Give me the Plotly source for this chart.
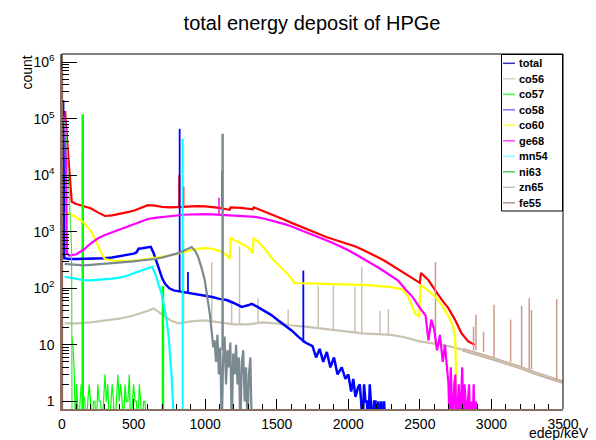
import plotly.graph_objects as go

# ---------------- data (energy in keV, counts) ----------------
total_kev = [5, 22, 45, 68, 100, 150, 200, 250, 300, 350,
             400, 450, 500, 550, 600, 650, 700, 750, 800, 850,
             900, 950, 1000, 1050, 1100, 1150, 1172, 1178, 1250, 1334,
             1340, 1400, 1450, 1500, 1550, 1600, 1650, 1700, 1750, 1800,
             1850, 1900, 1950, 2000, 2050, 2100, 2150, 2200, 2250, 2300,
             2350, 2400, 2450, 2500, 2508, 2559, 2605, 2652, 2698, 2745,
             2791, 2838, 2884]
total_counts = [1.3e5, 1.3e5, 2e4, 3400, 3100, 2850, 2600, 2200, 1900, 1950,
                2050, 2200, 2350, 2600, 2950, 2900, 2750, 2700, 2700, 2750,
                2800, 2850, 2800, 2750, 2650, 2500, 2450, 2700, 2650, 2500,
                2700, 2350, 2100, 1850, 1650, 1450, 1290, 1120, 1000, 900,
                800, 730, 670, 610, 550, 480, 420, 360, 310, 260,
                220, 180, 150, 125, 187, 140, 94, 63, 45, 28,
                16, 11.5, 10]
total_peak_kev = [146, 819, 848, 1119]
total_peak_base = [2800, 2700, 2750, 2650]
total_peak_top = [2.3e4, 1e4, 6300, 1.2e4]

co56_kev = [18, 100, 200, 300, 400, 500, 550, 600, 640, 680,
            720, 760, 813, 900, 1000, 1100, 1200, 1300, 1400, 1500,
            1600, 1700, 1800, 1900, 2000, 2100, 2200, 2300, 2400, 2500,
            2600, 2700, 2800, 2900, 3000, 3100, 3200, 3300, 3400, 3500]
co56_counts = [24, 24, 25, 27, 29, 33, 36, 40, 44, 37,
               31, 27, 24, 26, 27, 25, 23, 23, 25, 24,
               22, 21, 19.5, 18.5, 17, 16, 15.5, 15, 13.5, 11.5,
               10.5, 9.5, 8.2, 7, 5.8, 4.8, 4, 3.2, 2.7, 2.2]
co56_peak_kev = [850, 1046, 1185, 1240, 1370, 1580, 1790, 1896, 2047, 2094, 2222,
                 2280, 2609, 2875, 2892, 2945, 3018, 3134, 3211, 3264, 3280, 3456]
co56_peak_base = [24, 26, 24, 23, 24, 23, 19.5, 18.5, 17, 16, 15.5,
                  15, 10.5, 8, 8, 7.5, 6, 5, 4.2, 3.8, 3.7, 2.4]
co56_peak_top = [700, 290, 55, 550, 67, 42, 110, 112, 105, 240, 40,
                 43, 290, 21, 34, 17, 51, 28, 49, 67, 41, 64]

co57_kev = [70, 78, 86, 94, 102, 110, 118, 126, 134,
            160, 170, 180, 190, 200, 210, 220, 230, 240, 250,
            260, 270, 280, 290, 300, 310, 320, 330, 340, 350,
            360, 370, 380, 390, 400, 410, 420, 430, 440, 450,
            460, 470, 480, 490, 500, 510, 520, 530, 540, 550,
            560, 570, 580, 590]
co57_counts = [14, 8, 3, 0.3, 2, 1, 0.3, 1, 2,
               1, 0.3, 1, 2, 1, 0.3, 1, 1, 0.3, 2,
               1, 1, 0.3, 1, 3, 1, 2, 0.3, 1, 2,
               1, 0.3, 1, 3, 1, 2, 1, 0.3, 2, 1,
               1, 3, 0.3, 1, 2, 1, 1, 0.3, 2, 1,
               0.3, 1, 1, 0.3]
co57_peak_kev = [145, 705]
co57_peak_base = [0.3, 0.3]
co57_peak_top = [1.2e5, 110]

co58_kev = [2, 8, 16, 50, 100, 150, 200, 250, 300, 350,
            400, 450, 500, 520, 535, 560, 600, 620, 640, 660,
            680, 700, 720, 750, 780, 815, 850, 900, 950, 1000,
            1050, 1100, 1150, 1200, 1255, 1300, 1325, 1360, 1418, 1460,
            1511, 1560, 1604, 1650, 1700, 1750, 1775, 1800, 1825, 1850,
            1875, 1900, 1925, 1954, 1980, 2000, 2020, 2035, 2050, 2069,
            2080, 2090, 2100, 2110, 2120, 2130, 2140, 2150, 2160, 2170,
            2180, 2190, 2200, 2210, 2220, 2230, 2240, 2250, 2260]
co58_counts = [2e5, 2e5, 340, 330, 330, 330, 330, 335, 340, 350,
               370, 385, 410, 430, 500, 510, 530, 540, 420, 300,
               210, 150, 120, 100, 92, 89, 85, 82, 78, 74,
               70, 65, 62, 55, 47, 50, 53, 48, 40, 34,
               27, 22, 18, 14, 11, 9.5, 6, 8.5, 5, 7.5,
               4, 6, 3, 4, 2.5, 3, 1.5, 2.5, 1.2, 1.8,
               2, 1, 0.3, 2, 1, 1, 0.3, 2, 1, 0.3,
               1, 1, 0.3, 1, 0.3, 1, 0.3, 1, 0.3]
co58_peak_kev = [822, 880, 1686]
co58_peak_base = [89, 83, 11]
co58_peak_top = [6.6e4, 195, 206]

co60_kev = [20, 50, 100, 150, 200, 225, 250, 275, 300, 350,
            400, 450, 500, 550, 600, 650, 700, 750, 800, 850,
            900, 950, 1000, 1050, 1100, 1150, 1172, 1178, 1200, 1250,
            1300, 1332, 1338, 1375, 1425, 1475, 1525, 1575, 1610, 1626,
            1700, 1800, 1900, 2000, 2100, 2200, 2300, 2380, 2420, 2450,
            2470, 2495, 2505, 2550, 2605, 2650, 2700, 2733, 2748, 2760]
co60_counts = [2200, 2100, 1800, 1450, 1050, 800, 580, 420, 330, 310,
               305, 305, 310, 315, 330, 345, 360, 380, 405, 440,
               475, 505, 515, 500, 460, 390, 330, 775, 720, 620,
               530, 420, 775, 650, 470, 320, 240, 180, 140, 124,
               122, 120, 120, 118, 115, 110, 105, 95, 70, 45,
               35, 32, 115, 95, 72, 52, 32, 21, 12, 0.3]

ge68_kev = [5, 26, 34, 50, 100, 150, 200, 250, 300, 350,
            400, 450, 500, 550, 600, 650, 700, 750, 800, 850,
            900, 950, 1000, 1050, 1100, 1150, 1200, 1250, 1300, 1350,
            1400, 1450, 1500, 1550, 1600, 1650, 1700, 1750, 1800, 1850,
            1900, 1950, 2000, 2050, 2100, 2150, 2200, 2250, 2300, 2350,
            2400, 2450, 2500, 2540, 2560, 2580, 2600, 2620, 2640, 2660,
            2675, 2690,
            2700, 2708, 2716, 2724, 2732, 2740, 2748, 2756, 2764, 2772,
            2780, 2788, 2796, 2804, 2812, 2820, 2828, 2836, 2844, 2852,
            2860, 2868, 2876, 2884, 2892, 2900]
ge68_counts = [1.1e5, 9e4, 420, 380, 400, 480, 620, 760, 880, 980,
               1100, 1230, 1370, 1530, 1680, 1760, 1830, 1870, 1950, 2000,
               2020, 2050, 2050, 2030, 2000, 1990, 1960, 1920, 1880, 1830,
               1730, 1620, 1500, 1380, 1250, 1120, 1000, 890, 790, 700,
               620, 545, 470, 400, 340, 285, 240, 200, 165, 135,
               95, 70, 45, 33, 12, 28, 19, 8, 15, 5,
               10, 3,
               2, 0.3, 4, 1, 0.3, 2, 3, 0.3, 1, 2,
               0.3, 1, 4, 0.3, 2, 1, 0.3, 1, 2, 0.3,
               1, 0.3, 2, 0.3, 1, 0.3]
ge68_peak_kev = [1097]
ge68_peak_base = [2000]
ge68_peak_top = [4000]

mn54_kev = [18, 50, 100, 150, 200, 250, 300, 350, 400, 450,
            500, 550, 600, 630, 650, 670, 696, 715, 731, 745,
            755, 765, 775, 782]
mn54_counts = [160, 155, 145, 140, 138, 140, 142, 148, 155, 165,
               185, 205, 225, 240, 185, 130, 80, 45, 27, 14,
               7, 3, 1, 0.3]
mn54_peak_kev = [843]
mn54_peak_base = [0.3]
mn54_peak_top = [4.4e4]

ni63_kev = [3, 20, 33, 50, 66, 68, 69, 70]
ni63_counts = [1e5, 8e4, 3.7e4, 4000, 600, 100, 5, 0.3]

zn65_kev = [18, 50, 100, 150, 200, 250, 300, 350, 400, 450,
            500, 550, 600, 650, 700, 750, 800, 850, 880, 906,
            930, 952, 975, 998, 1015, 1033, 1045, 1057,
            1066, 1076, 1086, 1096, 1106, 1116, 1126, 1136, 1146, 1156,
            1166, 1176, 1186, 1196, 1206, 1216, 1226, 1236, 1246, 1256,
            1266, 1276, 1286, 1296, 1306, 1316, 1326]
zn65_counts = [270, 265, 255, 255, 260, 265, 270, 275, 285, 290,
               300, 310, 318, 330, 350, 375, 410, 460, 500, 535,
               460, 356, 230, 137, 70, 35, 18, 9,
               12, 5, 15, 3, 9, 0.3, 6, 14, 2, 8,
               4, 11, 0.3, 7, 3, 10, 2, 6, 0.3, 5,
               8, 1, 4, 0.3, 3, 6, 0.3]
zn65_peak_kev = [1122]
zn65_peak_base = [8]
zn65_peak_top = [5.4e4]

fe55_kev = [1, 1]
fe55_counts = [0.3, 7.2e5]

legend_labels = ["total", "co56", "co57", "co58", "co60", "ge68", "mn54", "ni63", "zn65", "fe55"]
legend_colors = ["#3030c0", "#d6d2c2", "#44ff44", "#7777ff", "#ffff44",
                 "#ff44ff", "#88ffff", "#55cc55", "#b8c8cc", "#b89080"]

x_ticks = [0, 500, 1000, 1500, 2000, 2500, 3000, 3500]
y_ticks = [1, 10, 100, 1000, 1e4, 1e5, 1e6]
y_ticktext = ["1", "10", "10<sup>2</sup>", "10<sup>3</sup>", "10<sup>4</sup>",
              "10<sup>5</sup>", "10<sup>6</sup>"]

# ---------------- figure ----------------
FONT = "Liberation Sans, Arial, Helvetica, sans-serif"
W, H = 596, 440
L, R, T, B = 62, 563, 54, 409
fig = go.Figure()


def px2x(px):
    return (px - L) / (R - L)


def py2y(py):
    return (B - py) / (B - T)


def add_curve(x, y, color, width):
    fig.add_trace(go.Scatter(x=x, y=y, mode="lines", line=dict(color=color, width=width),
                             hoverinfo="skip", showlegend=False))


def add_peaks(kev, base, top, color, width):
    xs, ys = [], []
    for k, b, t in zip(kev, base, top):
        xs += [k, k, None]
        ys += [b, t, None]
    add_curve(xs, ys, color, width)


RED = "#ff0000"
BEIGE = "#c9c3b1"
ROSY = "#c99a8a"
GREEN = "#00ff00"
BLUE = "#0000ff"
YELLOW = "#ffff00"
MAGENTA = "#ff00ff"
CYAN = "#00ffff"
LGREEN = "#55dd55"
GRAY = "#7a8a90"
BROWN = "#8c6e60"

add_curve(total_kev, total_counts, RED, 2.2)
add_peaks(total_peak_kev, total_peak_base, total_peak_top, RED, 2)

tail = [(k, c) for k, c in zip(co56_kev, co56_counts) if k >= 2800]
add_curve([t[0] for t in tail], [t[1] for t in tail], ROSY, 3.5)
add_curve(co56_kev, co56_counts, BEIGE, 2.2)
lo = [i for i, k in enumerate(co56_peak_kev) if k < 2600]
hi = [i for i, k in enumerate(co56_peak_kev) if k >= 2600]
add_peaks([co56_peak_kev[i] for i in lo], [co56_peak_base[i] for i in lo],
          [co56_peak_top[i] for i in lo], BEIGE, 1.5)
add_peaks([co56_peak_kev[i] for i in hi], [co56_peak_base[i] for i in hi],
          [co56_peak_top[i] for i in hi], ROSY, 1.5)

add_curve(co57_kev, co57_counts, GREEN, 1.2)
add_peaks(co57_peak_kev, co57_peak_base, co57_peak_top, GREEN, 2.5)

add_curve(co58_kev, co58_counts, BLUE, 2.5)
add_peaks(co58_peak_kev, co58_peak_base, co58_peak_top, BLUE, 1.8)

add_curve(co60_kev, co60_counts, YELLOW, 2.2)

add_curve(ge68_kev, ge68_counts, MAGENTA, 2.2)
add_peaks(ge68_peak_kev, ge68_peak_base, ge68_peak_top, MAGENTA, 1.5)

add_curve(mn54_kev, mn54_counts, CYAN, 2.2)
add_peaks(mn54_peak_kev, mn54_peak_base, mn54_peak_top, CYAN, 2)

add_curve(ni63_kev, ni63_counts, LGREEN, 1.2)

add_curve(zn65_kev, zn65_counts, GRAY, 2.2)
add_peaks(zn65_peak_kev, zn65_peak_base, zn65_peak_top, GRAY, 2.5)

add_curve(fe55_kev, fe55_counts, BROWN, 2)

minor_y = [m * 10 ** e for e in range(0, 6) for m in range(2, 10)]

fig.update_layout(
    width=W, height=H,
    margin=dict(l=L, r=W - R, t=T, b=H - B, pad=0, autoexpand=False),
    plot_bgcolor="white", paper_bgcolor="white",
    showlegend=False,
    font=dict(family=FONT, size=14, color="black"),
    title=dict(text="total energy deposit of HPGe", x=312 / W, xanchor="center",
               y=1 - 23 / H, yanchor="middle", font=dict(family=FONT, size=20, color="black")),
    xaxis=dict(range=[0, 3500], tickmode="array", tickvals=x_ticks, ticks="inside",
               ticklen=10, tickwidth=1, tickcolor="black", showgrid=False, zeroline=False,
               showline=True, linecolor=BROWN, linewidth=1.5, mirror=False, automargin=False,
               tickfont=dict(family=FONT, size=14, color="black"), ticklabelstandoff=1,
               minor=dict(tick0=0, dtick=100, ticks="inside", ticklen=5, tickcolor="black",
                          showgrid=False)),
    yaxis=dict(type="log", range=[-0.134, 6.143], tickmode="array", tickvals=y_ticks,
               ticktext=y_ticktext, ticks="inside", ticklen=15, tickwidth=1, tickcolor="black",
               showgrid=False, zeroline=False, showline=True, linecolor=BROWN, linewidth=1.5,
               mirror=False, automargin=False, tickfont=dict(family=FONT, size=14, color="black"),
               ticklabelstandoff=3,
               minor=dict(tickmode="array", tickvals=minor_y, ticks="inside", ticklen=7,
                          tickcolor="black", showgrid=False)),
)

shapes = [
    dict(type="line", xref="paper", yref="paper", x0=0, x1=1, y0=1, y1=1,
         line=dict(color="black", width=1)),
    dict(type="line", xref="paper", yref="paper", x0=1, x1=1, y0=0, y1=1,
         line=dict(color="black", width=1)),
    dict(type="line", xref="paper", yref="paper", x0=0, x1=0, y0=py2y(70), y1=1,
         line=dict(color="black", width=1)),
    dict(type="rect", xref="paper", yref="paper", x0=px2x(501.5), x1=px2x(562.5),
         y0=py2y(211), y1=py2y(54.5), line=dict(color="black", width=1), fillcolor="white"),
]
annotations = [
    dict(text="count", xref="paper", yref="paper", x=px2x(26), y=py2y(72.5), textangle=-90,
         showarrow=False, xanchor="center", yanchor="middle",
         font=dict(family=FONT, size=14, color="black")),
    dict(text="edep/keV", xref="paper", yref="paper", x=px2x(591), y=py2y(433),
         showarrow=False, xanchor="right", yanchor="middle",
         font=dict(family=FONT, size=14, color="black")),
]
for i, (lab, col) in enumerate(zip(legend_labels, legend_colors)):
    yc = 63.3 + 15.5 * i
    shapes.append(dict(type="line", xref="paper", yref="paper", x0=px2x(503), x1=px2x(515),
                       y0=py2y(yc), y1=py2y(yc), line=dict(color=col, width=1.5)))
    annotations.append(dict(text="<b>%s</b>" % lab, xref="paper", yref="paper", x=px2x(516.5),
                            y=py2y(yc), showarrow=False, xanchor="left", yanchor="middle",
                            font=dict(family=FONT, size=11, color="black")))
fig.update_layout(shapes=shapes, annotations=annotations)

fig.write_html("out.html")
